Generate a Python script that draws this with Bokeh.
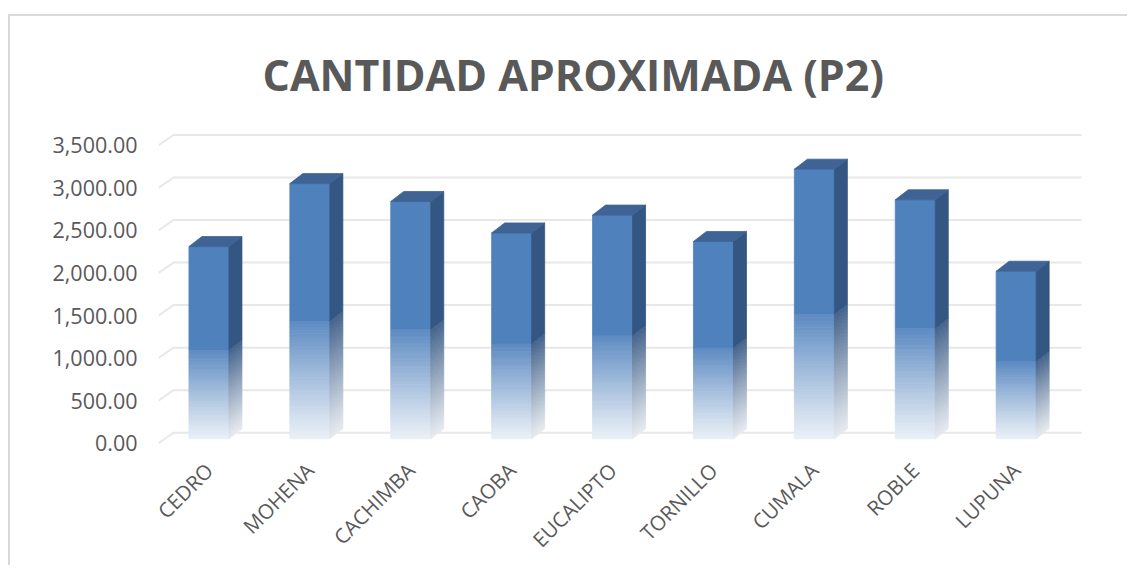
import math
import numpy as np
from bokeh.plotting import figure
from bokeh.models import Range1d, FixedTicker
from bokeh.embed import file_html
from bokeh.resources import INLINE

# ---------------- data ----------------
categories = ["CEDRO", "MOHENA", "CACHIMBA", "CAOBA", "EUCALIPTO",
              "TORNILLO", "CUMALA", "ROBLE", "LUPUNA"]
cantidad = [2260, 3000, 2790, 2420, 2630, 2320, 3170, 2810, 1970]
y_ticks = [0, 500, 1000, 1500, 2000, 2500, 3000, 3500]
y_tick_labels = ["0.00", "500.00", "1,000.00", "1,500.00", "2,000.00",
                 "2,500.00", "3,000.00", "3,500.00"]
title_text = "CANTIDAD APROXIMADA (P2)"

# ---------------- geometry / style ----------------
PX_X = 100.9        # pixels per category
PX_Y = 0.08506      # pixels per value unit
FRAME_W = 926
FRAME_H = 318
X0 = -0.5
Y0 = -40.0
X1 = X0 + FRAME_W / PX_X
Y1 = Y0 + FRAME_H / PX_Y
FRONT_END = len(categories) - 0.5

WALL_DX = 15.0 / PX_X
WALL_DY = 10.4 / PX_Y
BAR_W = 40.0 / PX_X
BAR_DX = 13.0 / PX_X
BAR_DY = 10.0 / PX_Y
BAR_BASE = 4.3 / PX_Y
FADE = 0.46
NSLICE = 40

FRONT_RGB = (0x4F, 0x81, 0xBD)
SIDE_RGB = (0x34, 0x56, 0x82)
TOP_RGB = (0x3E, 0x63, 0x94)
TEXT_COLOR = "#595959"
GRID_COLOR = "#e8e8e8"
BORDER_COLOR = "#d9d9d9"


def blend(rgb, a):
    r, g, b = (int(round(255 * (1 - a) + c * a)) for c in rgb)
    return "#%02x%02x%02x" % (r, g, b)


def alpha_at(t):
    return 0.12 + (0.92 - 0.12) * (t / FADE) ** 1.1


p = figure(frame_width=FRAME_W, frame_height=FRAME_H,
           x_range=Range1d(X0, X1), y_range=Range1d(Y0, Y1),
           output_backend="svg", toolbar_location=None,
           min_border_left=158, min_border_right=43,
           min_border_top=128, min_border_bottom=119)
p.outline_line_color = None
p.background_fill_color = None
p.border_fill_color = None
p.xgrid.visible = False
p.ygrid.visible = False
p.styles = {
    "background": (
        f"linear-gradient({BORDER_COLOR},{BORDER_COLOR}) 8px 14px / 2px 100% no-repeat, "
        f"linear-gradient({BORDER_COLOR},{BORDER_COLOR}) 8px 14px / 100% 2px no-repeat, white"
    )
}

# title
p.title.text = title_text
p.title.align = "left"
p.title.offset = 104
p.title.standoff = 50
p.title.text_font = "Open Sans"
p.title.text_font_style = "bold"
p.title.text_font_size = "43px"
p.title.text_color = TEXT_COLOR

# back-wall gridlines with the floor slant on the left
gx, gy = [], []
for v in y_ticks:
    gx.append([X0, X0 + WALL_DX, FRONT_END + WALL_DX])
    gy.append([v, v + WALL_DY, v + WALL_DY])
p.multi_line(gx, gy, line_color=GRID_COLOR, line_width=2)

# bars
cx = np.arange(len(categories), dtype=float)
vals = np.array(cantidad, dtype=float)
xl = cx - BAR_W / 2
xr = cx + BAR_W / 2

fl, fr, fb, ft, fc = [], [], [], [], []
sxs, sys, sc = [], [], []
for i in range(len(vals)):
    h = vals[i]
    b0 = BAR_BASE
    fl.append(xl[i]); fr.append(xr[i])
    fb.append(b0 + FADE * h); ft.append(b0 + h)
    fc.append(blend(FRONT_RGB, 1.0))
    sxs.append([xr[i], xr[i], xr[i] + BAR_DX, xr[i] + BAR_DX])
    sys.append([b0 + FADE * h, b0 + h, b0 + h + BAR_DY, b0 + FADE * h + BAR_DY])
    sc.append(blend(SIDE_RGB, 1.0))
    for k in range(NSLICE):
        t0 = FADE * k / NSLICE
        t1 = FADE * (k + 1) / NSLICE
        a = alpha_at((t0 + t1) / 2)
        fl.append(xl[i]); fr.append(xr[i])
        fb.append(b0 + t0 * h); ft.append(b0 + t1 * h)
        fc.append(blend(FRONT_RGB, a))
        sxs.append([xr[i], xr[i], xr[i] + BAR_DX, xr[i] + BAR_DX])
        sys.append([b0 + t0 * h, b0 + t1 * h, b0 + t1 * h + BAR_DY, b0 + t0 * h + BAR_DY])
        sc.append(blend(SIDE_RGB, a))

p.quad(left=fl, right=fr, bottom=fb, top=ft, fill_color=fc,
       line_color=fc, line_width=0.8)
p.patches(sxs, sys, fill_color=sc, line_color=sc, line_width=0.8)

txs, tys = [], []
for i in range(len(vals)):
    t = BAR_BASE + vals[i]
    txs.append([xl[i], xr[i], xr[i] + BAR_DX, xl[i] + BAR_DX])
    tys.append([t, t, t + BAR_DY, t + BAR_DY])
top_col = blend(TOP_RGB, 1.0)
p.patches(txs, tys, fill_color=top_col, line_color=top_col, line_width=0.8)

# axes
p.yaxis.ticker = FixedTicker(ticks=y_ticks)
p.yaxis.major_label_overrides = {t: l for t, l in zip(y_ticks, y_tick_labels)}
p.yaxis.axis_line_color = None
p.yaxis.major_tick_line_color = None
p.yaxis.minor_tick_line_color = None
p.yaxis.major_tick_out = 0
p.yaxis.major_label_standoff = 21
p.yaxis.major_label_text_font = "Open Sans"
p.yaxis.major_label_text_font_size = "21.5px"
p.yaxis.major_label_text_color = TEXT_COLOR

p.xaxis.ticker = FixedTicker(ticks=list(range(len(categories))))
p.xaxis.major_label_overrides = {i: c for i, c in enumerate(categories)}
p.xaxis.axis_line_color = None
p.xaxis.major_tick_line_color = None
p.xaxis.minor_tick_line_color = None
p.xaxis.major_tick_out = 0
p.xaxis.major_label_standoff = 20
p.xaxis.major_label_orientation = math.pi / 4
p.xaxis.major_label_text_font = "Open Sans"
p.xaxis.major_label_text_font_size = "20.5px"
p.xaxis.major_label_text_color = TEXT_COLOR

open("out.html", "w").write(file_html(p, INLINE))
